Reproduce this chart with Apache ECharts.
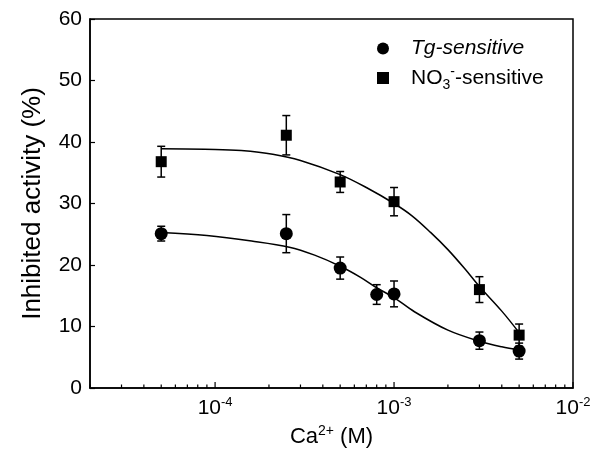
<!DOCTYPE html>
<html><head><meta charset="utf-8">
<script src="https://cdn.jsdelivr.net/npm/echarts@6/dist/echarts.min.js"></script>
<style>html,body{margin:0;padding:0;background:#fff}#c{width:605px;height:455px}</style>
</head><body><div id="c"></div>
<script>
// Measured points (mean) and error bars
const tgX   = [5e-5, 2.5e-4, 5e-4, 8e-4, 1e-3, 3e-3, 5e-3];
const tgY   = [25.1, 25.1, 19.5, 15.2, 15.3, 7.7, 6.0];
const tgErr = [1.2, 3.1, 1.8, 1.6, 2.1, 1.4, 1.3];
const noX   = [5e-5, 2.5e-4, 5e-4, 1e-3, 3e-3, 5e-3];
const noY   = [36.8, 41.1, 33.5, 30.3, 16.0, 8.6];
const noErr = [2.5, 3.2, 1.7, 2.3, 2.1, 1.8];
// Fitted curves
const tgFitX = [5e-5, 9e-5, 1.6e-4, 2.6e-4, 3.6e-4, 5e-4, 6.5e-4, 8e-4, 1e-3, 1.3e-3, 2e-3, 3e-3, 4e-3, 5e-3];
const tgFitY = [25.3, 24.8, 23.9, 22.9, 21.6, 19.8, 18.0, 16.3, 14.7, 12.4, 9.4, 7.6, 6.7, 6.2];
const noFitX = [5e-5, 1e-4, 1.4e-4, 2.1e-4, 3e-4, 5e-4, 7e-4, 1e-3, 1.26e-3, 1.6e-3, 2e-3, 2.5e-3, 3e-3, 4e-3, 5e-3];
const noFitY = [38.9, 38.8, 38.6, 38.0, 37.0, 34.7, 32.6, 30.0, 28.0, 25.3, 22.5, 19.3, 16.5, 12.5, 9.0];
// Axis
const xMin = 2e-5, xMax = 1e-2;
const yTicks = [0, 10, 20, 30, 40, 50, 60];

const FONT = 'Liberation Sans, Arial, sans-serif';
const zip = (a, b) => a.map((v, i) => [v, b[i]]);
const errData = (xs, ys, es) => xs.map((v, i) => [v, ys[i], es[i]]);

// tick positions for log axis (major decades and minor 2..9)
const tickData = [];
for (let d = -5; d <= -2; d++) {
  for (let m = 1; m <= 9; m++) {
    const v = m * Math.pow(10, d);
    if (v >= xMin * 0.999 && v <= xMax * 1.001) tickData.push([v, m === 1 ? 1 : 0]);
  }
}

function errRender(params, api) {
  const x = api.value(0), y = api.value(1), e = api.value(2);
  const top = api.coord([x, y + e]);
  const bot = api.coord([x, y - e]);
  const w = 4;
  const st = { stroke: '#000', lineWidth: 1.5 };
  return { type: 'group', children: [
    { type: 'line', shape: { x1: top[0], y1: top[1], x2: bot[0], y2: bot[1] }, style: st },
    { type: 'line', shape: { x1: top[0] - w, y1: top[1], x2: top[0] + w, y2: top[1] }, style: st },
    { type: 'line', shape: { x1: bot[0] - w, y1: bot[1], x2: bot[0] + w, y2: bot[1] }, style: st }
  ]};
}
function tickRender(params, api) {
  const p = api.coord([api.value(0), 0]);
  const len = api.value(1) ? 6 : 3.5;
  return { type: 'line', shape: { x1: p[0], y1: p[1], x2: p[0], y2: p[1] - len }, style: { stroke: '#000', lineWidth: 1.2 } };
}

const chart = echarts.init(document.getElementById('c'));
chart.setOption({
  animation: false,
  backgroundColor: '#fff',
  grid: { left: 90, right: 32, top: 19, bottom: 67, show: true, borderColor: '#000', borderWidth: 1.5, backgroundColor: 'transparent' },
  legend: {
    orient: 'vertical', left: 372, top: 33, itemGap: 6, itemWidth: 12, itemHeight: 12,
    data: [{ name: 'Tg-sensitive', icon: 'circle' }, { name: 'NO3-sensitive', icon: 'rect' }],
    formatter: n => n === 'Tg-sensitive' ? '{sp|}{it|Tg-sensitive}' : '{sp|}{n|NO}{sub|3}{sup|-}{n|-sensitive}',
    textStyle: { fontFamily: FONT, fontSize: 21, color: '#000',
      rich: {
        sp: { width: 17, fontSize: 21 },
        it: { fontFamily: FONT, fontSize: 21, fontStyle: 'italic', color: '#000' },
        n: { fontFamily: FONT, fontSize: 21, color: '#000' },
        sub: { fontFamily: FONT, fontSize: 14, color: '#000', padding: [14, 0, 0, 0] },
        sup: { fontFamily: FONT, fontSize: 14, color: '#000', padding: [0, 0, 12, 0] }
      } }
  },
  xAxis: {
    type: 'log', logBase: 10, min: xMin, max: xMax,
    name: '{n|Ca}{sup|2+}{n| (M)}', nameLocation: 'middle', nameGap: 36,
    nameTextStyle: { fontFamily: FONT, fontSize: 22, color: '#000',
      rich: { n: { fontFamily: FONT, fontSize: 22, color: '#000' },
              sup: { fontFamily: FONT, fontSize: 14, color: '#000', padding: [0, 0, 12, 0] } } },
    axisLine: { show: true, lineStyle: { color: '#000', width: 1.5 } },
    axisTick: { show: false },
    splitLine: { show: false },
    minorTick: { show: false },
    axisLabel: {
      margin: 8, color: '#000', fontFamily: FONT, fontSize: 21,
      formatter: v => { const e = Math.log10(v); const r = Math.round(e); return Math.abs(e - r) < 1e-6 ? '{n|10}{sup|' + r + '}' : ''; },
      rich: { n: { fontFamily: FONT, fontSize: 21, color: '#000' },
              sup: { fontFamily: FONT, fontSize: 13, color: '#000', padding: [0, 0, 12, 0] } }
    }
  },
  yAxis: {
    type: 'value', min: yTicks[0], max: yTicks[yTicks.length - 1], interval: 10,
    name: 'Inhibited activity (%)', nameLocation: 'middle', nameGap: 44,
    nameTextStyle: { fontFamily: FONT, fontSize: 26, color: '#000' },
    axisLine: { show: true, lineStyle: { color: '#000', width: 1.5 } },
    axisTick: { show: true, inside: true, length: 5, lineStyle: { color: '#000', width: 1.2 } },
    splitLine: { show: false },
    axisLabel: { color: '#000', fontFamily: FONT, fontSize: 21, margin: 8 }
  },
  series: [
    { type: 'custom', name: 'ticks', renderItem: tickRender, data: tickData, silent: true, z: 1, encode: { x: 0 } },
    { type: 'line', name: 'noFit', data: zip(noFitX, noFitY), smooth: 0.35, showSymbol: false, symbol: 'none', lineStyle: { color: '#000', width: 1.5 }, silent: true, z: 2 },
    { type: 'line', name: 'tgFit', data: zip(tgFitX, tgFitY), smooth: 0.35, showSymbol: false, symbol: 'none', lineStyle: { color: '#000', width: 1.5 }, silent: true, z: 2 },
    { type: 'custom', name: 'noErr', renderItem: errRender, data: errData(noX, noY, noErr), encode: { x: 0, y: 1 }, z: 3 },
    { type: 'custom', name: 'tgErr', renderItem: errRender, data: errData(tgX, tgY, tgErr), encode: { x: 0, y: 1 }, z: 3 },
    { type: 'scatter', name: 'Tg-sensitive', data: zip(tgX, tgY), symbol: 'circle', symbolSize: 13, itemStyle: { color: '#000', opacity: 1 }, z: 4 },
    { type: 'scatter', name: 'NO3-sensitive', data: zip(noX, noY), symbol: 'rect', symbolSize: 11, itemStyle: { color: '#000', opacity: 1 }, z: 4 }
  ]
});
</script></body></html>
